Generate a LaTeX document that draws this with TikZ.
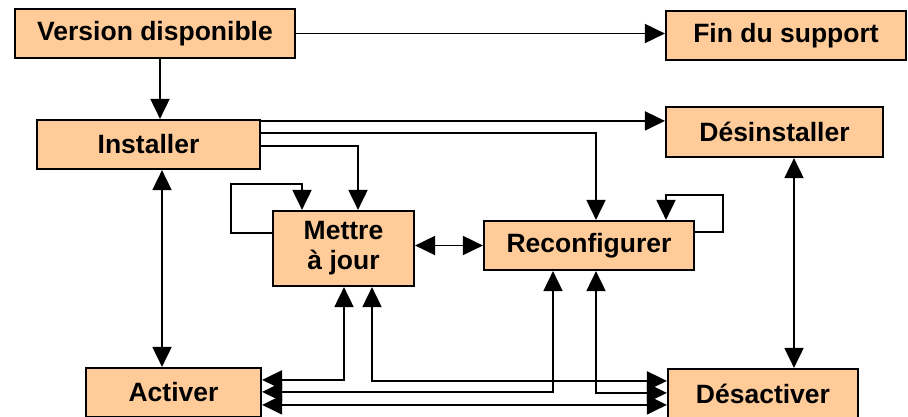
\documentclass[tikz,border=0pt]{standalone}
\usepackage{fontspec}
\setmainfont{Liberation Sans}
\usetikzlibrary{arrows.meta}
\definecolor{boxfill}{HTML}{FFCC99}
\tikzset{
  box/.style={draw=black, line width=2.2pt, fill=boxfill, rectangle, inner sep=0pt,
    font=\fontsize{26.5}{30}\selectfont\bfseries, align=center},
  conn/.style={line width=1.9pt, -{Triangle[length=20pt,width=19pt]}},
  conn2/.style={line width=1.9pt, {Triangle[length=20pt,width=19pt]}-{Triangle[length=20pt,width=19pt]}},
}
\begin{document}
\begin{tikzpicture}[x=1pt,y=-1pt]
\useasboundingbox (0,0) rectangle (908,416);
\clip (0,0) rectangle (908,416);
% nodes
\node[box, minimum width=280pt, minimum height=49pt] (ver) at (155,33.5) {Version disponible};
\node[box, minimum width=240pt, minimum height=49pt] (fin) at (786,35.5) {Fin du support};
\node[box, minimum width=223pt, minimum height=49pt] (inst) at (148.5,144.5) {Installer};
\node[box, minimum width=217pt, minimum height=50pt] (desi) at (774.5,132) {Désinstaller};
\node[box, minimum width=141pt, minimum height=75pt] (mett) at (343.5,248.5) {Mettre\\à jour};
\node[box, minimum width=210pt, minimum height=49pt] (reco) at (589,245.5) {Reconfigurer};
\node[box, minimum width=175pt, minimum height=49pt] (act) at (173.5,392.5) {Activer};
\node[box, minimum width=190pt, minimum height=49pt] (desa) at (763,393.5) {Désactiver};
% connectors
\draw[conn] (ver.east) -- (fin.west |- ver.east);
\draw[conn] ([xshift=5pt]ver.south) -- ([xshift=5pt]ver.south |- inst.north);
\draw[conn] ([yshift=-2pt]inst.north east) coordinate (i1) -- (i1 -| desi.west);
\draw[conn] ([yshift=-14pt]inst.north east) -| ([xshift=7pt]reco.north);
\draw[conn] ([yshift=-27pt]inst.north east) -| ([xshift=14.5pt]mett.north);
% self loops
\draw[conn] ([yshift=-23pt]mett.north west) -| ([xshift=-41pt,yshift=26pt]mett.north west) -| ([xshift=-41.5pt]mett.north);
\draw[conn] ([yshift=-12pt]reco.north east) -| ([xshift=28pt,yshift=25pt]reco.north east) -| ([xshift=77pt]reco.north);
% mettre <-> reconfigurer
\draw[conn2] (reco.west -| mett.east) -- (reco.west);
% verticals
\draw[conn2] ([xshift=13.5pt]inst.south) coordinate (i2) -- (i2 |- act.north);
\draw[conn2] ([xshift=19.5pt]desi.south) coordinate (d2) -- (d2 |- desa.north);
% bottom bus
\draw[conn2] ([yshift=-13pt]act.north east) -| ([xshift=0.5pt]mett.south);
\draw[conn2] ([xshift=28.5pt]mett.south) |- ([yshift=-13pt]desa.north west);
\draw[conn2] ([yshift=-25pt]act.north east) -| ([xshift=-36pt]reco.south);
\draw[conn2] ([xshift=7pt]reco.south) |- ([yshift=-25pt]desa.north west);
\draw[conn2] ([yshift=-38pt]act.north east) coordinate (a3) -- (a3 -| desa.west);
\end{tikzpicture}
\end{document}
